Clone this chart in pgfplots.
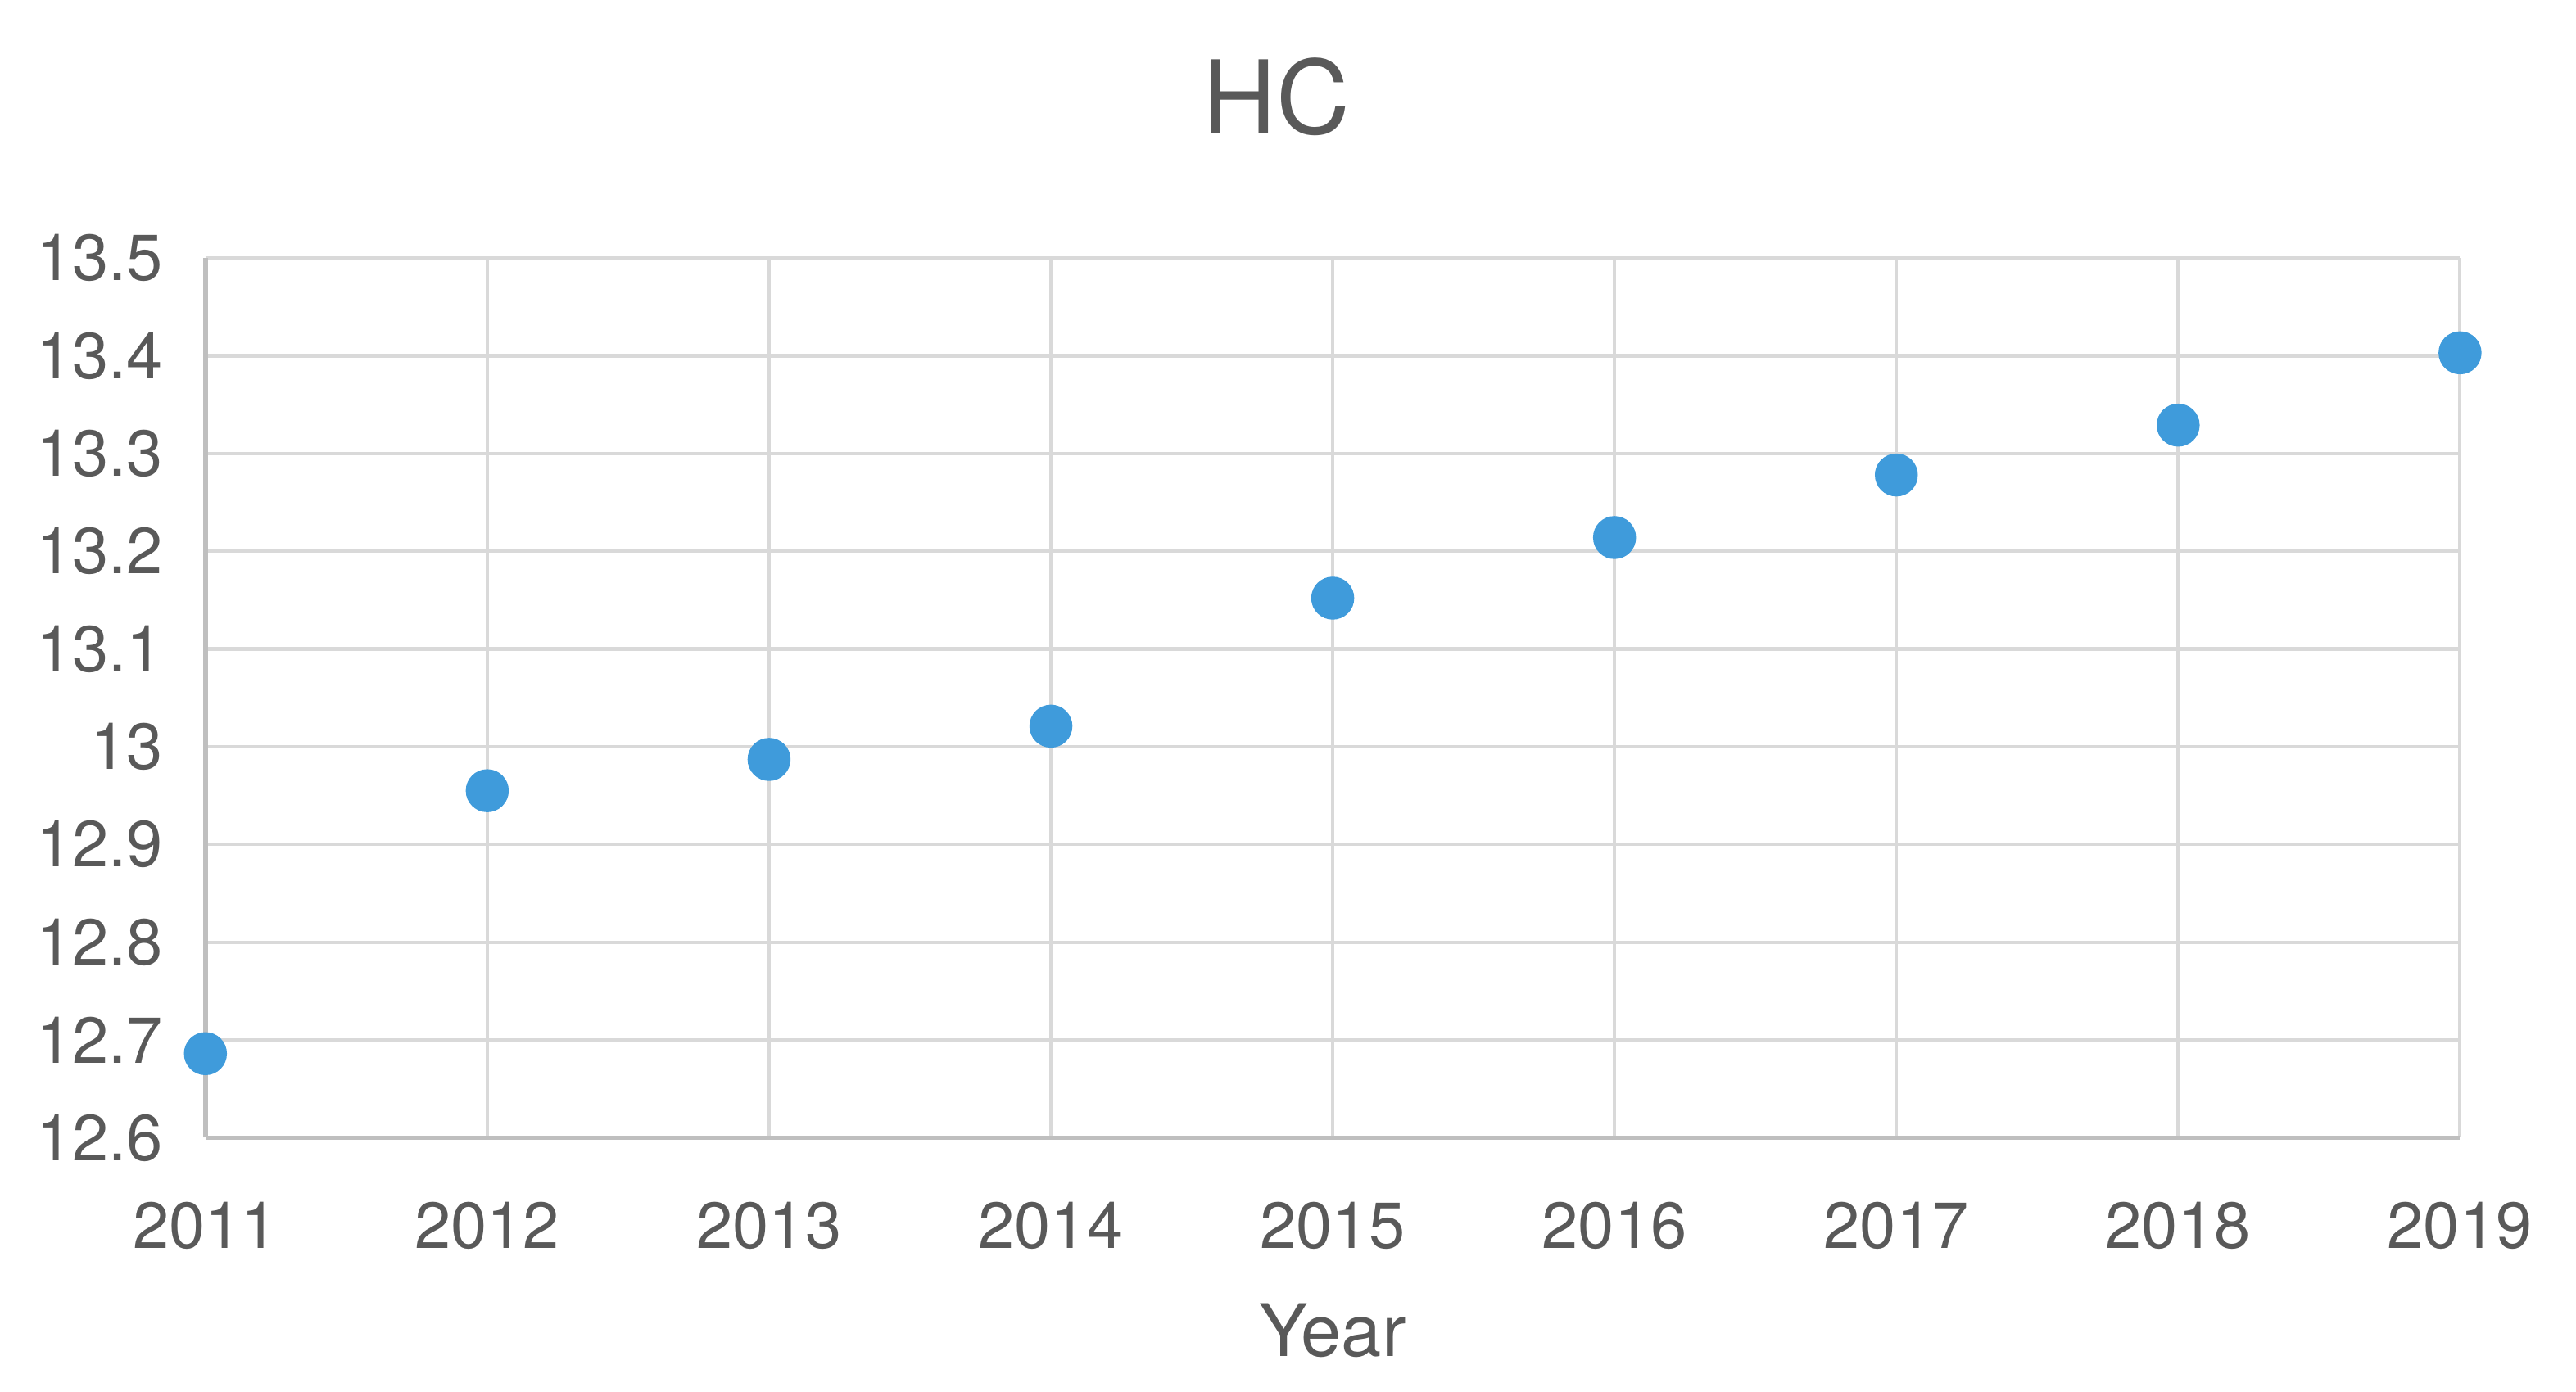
\documentclass[border=0pt]{standalone}
\usepackage{pgfplots}
\pgfplotsset{compat=1.18}
\usepackage{fontspec}
\setmainfont{TeX Gyre Heros}

\definecolor{txt}{HTML}{595959}
\definecolor{gridc}{HTML}{D9D9D9}
\definecolor{axisc}{HTML}{BFBFBF}
\definecolor{dot}{HTML}{3F9BDB}

\begin{document}
\begin{tikzpicture}
	\begin{axis}[
		name=ax,
		scale only axis,
		width=398.4pt,
		height=155.5pt,
		xmin=2011, xmax=2019,
		ymin=12.6, ymax=13.5,
		xtick={2011,2012,...,2019},
		ytick={12.6,12.7,...,13.5},
		x tick label style={/pgf/number format/set thousands separator={}},
		y tick label style={/pgf/number format/fixed,/pgf/number format/precision=1},
		/pgf/number format/assume math mode=true,
		major tick length=0pt,
		grid=major,
		grid style={gridc, line width=0.6pt},
		axis x line*=bottom,
		axis y line*=left,
		axis line style={axisc, line width=0.8pt, -},
		ticklabel style={font=\fontsize{11.5}{13}\selectfont, text=txt},
		xticklabel style={anchor=base, yshift=-19.5pt, inner sep=0pt},
		yticklabel style={anchor=east, xshift=-7.3pt, inner sep=0pt},
		title={HC},
		title style={font=\fontsize{18}{21}\selectfont, text=txt, at={(0.5,1)}, anchor=base, yshift=15.9pt, xshift=-10pt},
		xlabel={Year},
		xlabel style={font=\fontsize{12.8}{14}\selectfont, text=txt, at={(0.5,0)}, anchor=base, yshift=-38.7pt},
		clip=false,
	]
	\addplot[only marks, mark=*, mark size=3.6pt, mark options={fill=dot, draw=dot}] coordinates {
		(2011,12.686)
		(2012,12.955)
		(2013,12.987)
		(2014,13.021)
		(2015,13.152)
		(2016,13.214)
		(2017,13.278)
		(2018,13.329)
		(2019,13.403)
	};
	\end{axis}
	\pgfresetboundingbox
	\path[use as bounding box] ([xshift=-36.3pt,yshift=-44.9pt]ax.south west) rectangle ([xshift=20.5pt,yshift=45.6pt]ax.north east);
\end{tikzpicture}
\end{document}
